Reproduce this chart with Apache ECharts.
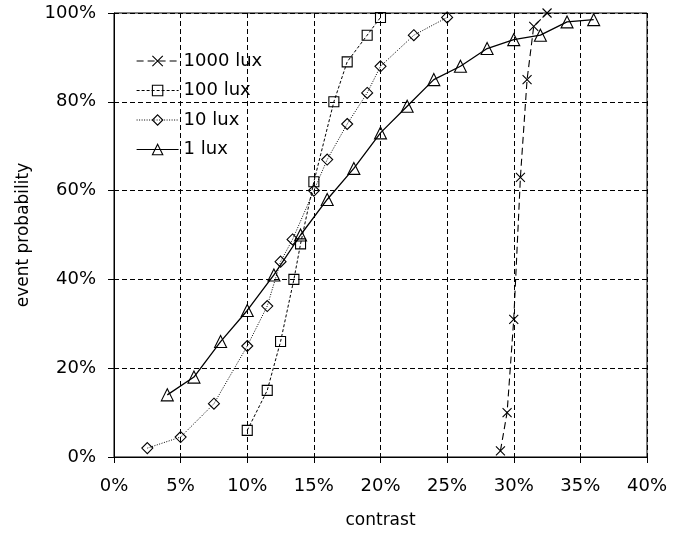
<!DOCTYPE html>
<html>
<head>
<meta charset="utf-8">
<script src="https://cdn.jsdelivr.net/npm/echarts@6/dist/echarts.min.js"></script>
<style>
  html, body { margin: 0; padding: 0; background: #fff; }
  #main { width: 696px; height: 536px; }
</style>
</head>
<body>
<div id="main"></div>
<script>
// contrast (%) / event probability (%)
var lux1000X = [29, 29.5, 30, 30.5, 31, 31.5, 32.5];
var lux1000Y = [1.4, 10, 31, 63, 85, 97, 100];

var lux100X = [10, 11.5, 12.5, 13.5, 14, 15, 16.5, 17.5, 19, 20];
var lux100Y = [6, 15, 26, 40, 48, 62, 80, 89, 95, 99];

var lux10X = [2.5, 5, 7.5, 10, 11.5, 12.5, 13.4, 15, 16, 17.5, 19, 20, 22.5, 25];
var lux10Y = [2, 4.5, 12, 25, 34, 44, 49, 60, 67, 75, 82, 88, 95, 99];

var lux1X = [4, 6, 8, 10, 12, 14, 16, 18, 20, 22, 24, 26, 28, 30, 32, 34, 36];
var lux1Y = [14, 18, 26, 33, 41, 50, 58, 65, 73, 79, 85, 88, 92, 94, 95, 98, 98.5];

var seriesNames = ['1000 lux', '100 lux', '10 lux', '1 lux'];

function zip(xs, ys) {
    var out = [];
    for (var i = 0; i < xs.length; i++) out.push([xs[i], ys[i]]);
    return out;
}

var crossSymbol = 'path://M0,0L10,10M0,10L10,0';
var markStyle = { color: 'rgba(0,0,0,0)', borderColor: '#000', borderWidth: 1.1 };
var font = 'DejaVu Sans, Verdana, sans-serif';

function makeSeries(name, data, symbol, size, lineType, width) {
    return {
        name: name,
        type: 'line',
        data: data,
        symbol: symbol,
        symbolSize: size,
        showAllSymbol: true,
        itemStyle: markStyle,
        lineStyle: { color: '#000', width: width, type: lineType },
        emphasis: { disabled: true }
    };
}

var myChart = echarts.init(document.getElementById('main'));

var option = {
    animation: false,
    backgroundColor: '#fff',
    textStyle: { fontFamily: font, color: '#000' },
    grid: {
        left: 114, right: 49, top: 13, bottom: 79,
        show: true, borderColor: '#000', borderWidth: 1
    },
    legend: {
        orient: 'vertical',
        left: 131,
        top: 47,
        itemWidth: 42,
        itemHeight: 13,
        itemGap: 11.5,
        selectedMode: false,
        itemStyle: { borderWidth: 1.1, borderColor: '#000' },
        lineStyle: { width: 1.2, color: '#000' },
        textStyle: { fontSize: 18, color: '#000', fontFamily: font, lineHeight: 18 },
        data: seriesNames
    },
    xAxis: {
        type: 'value',
        min: 0, max: 40, interval: 5,
        name: 'contrast',
        nameLocation: 'middle',
        nameGap: 55,
        nameTextStyle: { fontSize: 17, color: '#000', fontFamily: font },
        axisLine: { lineStyle: { color: '#000', width: 1 } },
        axisTick: { show: true, length: 6, lineStyle: { color: '#000' } },
        axisLabel: { formatter: '{value}%', fontSize: 18, color: '#000', margin: 20, fontFamily: font },
        splitLine: { show: true, lineStyle: { color: '#000', type: [5, 3], width: 1 } }
    },
    yAxis: {
        type: 'value',
        min: 0, max: 100, interval: 20,
        name: 'event probability',
        nameLocation: 'middle',
        nameGap: 82,
        nameTextStyle: { fontSize: 17, color: '#000', fontFamily: font },
        axisLine: { show: true, lineStyle: { color: '#000', width: 1 } },
        axisTick: { show: true, length: 6, lineStyle: { color: '#000' } },
        axisLabel: { formatter: '{value}%', fontSize: 18, color: '#000', margin: 18, fontFamily: font },
        splitLine: { show: true, lineStyle: { color: '#000', type: [5, 3], width: 1 } }
    },
    series: [
        makeSeries('1000 lux', zip(lux1000X, lux1000Y), crossSymbol, 9, [7, 4], 1.1),
        makeSeries('100 lux', zip(lux100X, lux100Y), 'rect', 10, [3, 2], 1),
        makeSeries('10 lux', zip(lux10X, lux10Y), 'diamond', 11, [1, 1.5], 1),
        makeSeries('1 lux', zip(lux1X, lux1Y), 'triangle', 12, 'solid', 1.3)
    ]
};

myChart.setOption(option);
</script>
</body>
</html>
